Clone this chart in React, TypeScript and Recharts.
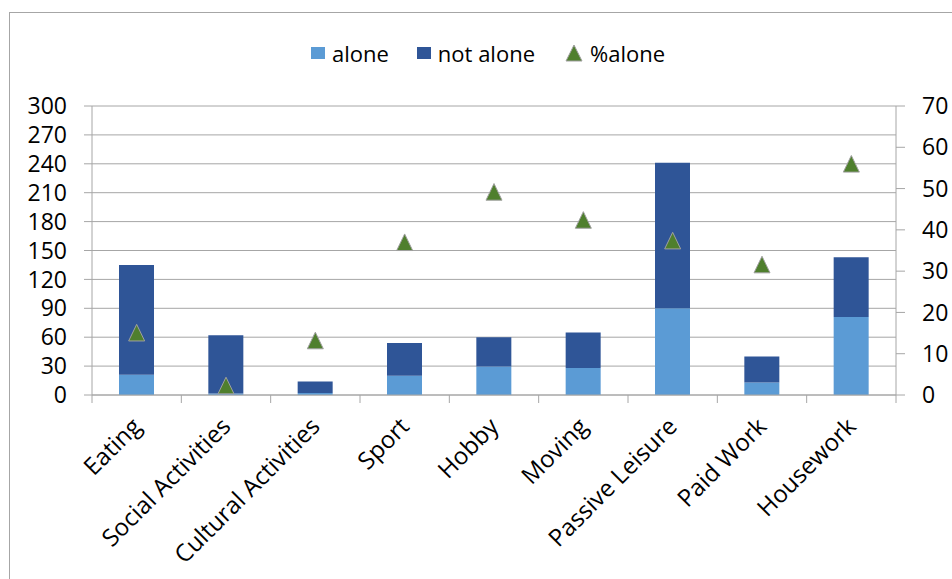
import React from "react";
import {
  ComposedChart,
  Bar,
  Line,
  XAxis,
  YAxis,
  CartesianGrid,
} from "recharts";

const categories = [
  "Eating",
  "Social Activities",
  "Cultural Activities",
  "Sport",
  "Hobby",
  "Moving",
  "Passive Leisure",
  "Paid Work",
  "Housework",
];
const alone = [21, 1.5, 2, 20, 29.5, 28, 90, 13, 81];
const notAlone = [114, 60.5, 12, 34, 30.5, 37, 151, 27, 62];
const pctAlone = [15.1, 2.3, 13.2, 37.0, 49.2, 42.4, 37.4, 31.6, 56.0];

const leftTicks = [0, 30, 60, 90, 120, 150, 180, 210, 240, 270, 300];
const rightTicks = [0, 10, 20, 30, 40, 50, 60, 70];

const data = categories.map((name, i) => ({
  name,
  alone: alone[i],
  notAlone: notAlone[i],
  pct: pctAlone[i],
}));

const FONT = "'Open Sans', sans-serif";
const AXIS_GRAY = "#a6a6a6";
const C_ALONE = "#5b9bd5";
const C_NOT = "#2f5597";
const C_TRI = "#4f7f2d";
const C_TRI_STROKE = "#a0a0a0";
const TICK_FS = 23;
const XTICK_FS = 24;

const TriangleDot = (props: any) => {
  const { cx, cy, index } = props;
  if (cx == null || cy == null) return null;
  const h = 8.3;
  const w = 8;
  return (
    <polygon
      key={`tri-${index}`}
      points={`${cx},${cy - h} ${cx + w},${cy + h} ${cx - w},${cy + h}`}
      fill={C_TRI}
      stroke={C_TRI_STROKE}
      strokeWidth={1}
    />
  );
};

const XTick = (props: any) => {
  const { x, y, payload, index } = props;
  const off = payload && typeof payload.offset === "number" && payload.offset > 0 ? payload.offset : 44.7;
  const axisY = y - 8;
  const isLast = index === categories.length - 1;
  const tx = x + 6;
  const ty = axisY + 33;
  return (
    <g>
      <line x1={x - off} y1={axisY} x2={x - off} y2={axisY + 8} stroke={AXIS_GRAY} strokeWidth={1} />
      {isLast && (
        <line x1={x + off} y1={axisY} x2={x + off} y2={axisY + 8} stroke={AXIS_GRAY} strokeWidth={1} />
      )}
      <text
        x={tx}
        y={ty}
        textAnchor="end"
        fill="#000"
        fontSize={XTICK_FS}
        fontFamily={FONT}
        transform={`rotate(-45, ${tx}, ${ty})`}
      >
        {payload.value}
      </text>
    </g>
  );
};

const LegendBox = () => {
  const item = (marker: React.ReactNode, label: string, ml: number) => (
    <div style={{ display: "flex", alignItems: "center", marginLeft: ml }}>
      {marker}
      <span style={{ marginLeft: 7 }}>{label}</span>
    </div>
  );
  return (
    <div
      style={{
        position: "absolute",
        left: 0,
        top: 30,
        width: 944,
        display: "flex",
        alignItems: "center",
        paddingLeft: 303,
        boxSizing: "border-box",
        fontFamily: FONT,
        fontSize: 22,
        lineHeight: "30px",
        color: "#000",
      }}
    >
      {item(<div style={{ width: 14, height: 12, background: C_ALONE }} />, "alone", 0)}
      {item(<div style={{ width: 14, height: 12, background: C_NOT }} />, "not alone", 28)}
      {item(
        <svg width={18} height={18} style={{ display: "block" }}>
          <polygon points="9,1 17,17 1,17" fill={C_TRI} stroke={C_TRI_STROKE} strokeWidth={1} />
        </svg>,
        "%alone",
        30
      )}
    </div>
  );
};

export default function App() {
  return (
    <>
      <style>{"html,body{margin:0;padding:0;overflow:hidden;background:#fff}"}</style>
      <div
        style={{
          position: "absolute",
          left: 8,
          top: 8,
          width: 944,
          height: 571,
          overflow: "hidden",
          background: "#fff",
        }}
      >
        <div
          style={{
            position: "absolute",
            left: 1,
            top: 4,
            width: 2000,
            height: 2000,
            borderLeft: `1px solid ${AXIS_GRAY}`,
            borderTop: `1px solid ${AXIS_GRAY}`,
          }}
        />
        <LegendBox />
        <div style={{ position: "absolute", left: 0, top: 0 }}>
          <ComposedChart
            width={944}
            height={571}
            data={data}
            margin={{ top: 98, right: 0, bottom: 0, left: 0 }}
            barCategoryGap={0}
          >
            <CartesianGrid vertical={false} stroke={AXIS_GRAY} yAxisId="left" />
            <XAxis
              dataKey="name"
              height={184}
              tickSize={8}
              tickMargin={0}
              tickLine={false}
              axisLine={{ stroke: AXIS_GRAY }}
              interval={0}
              tick={<XTick />}
            />
            <YAxis
              yAxisId="left"
              orientation="left"
              width={84}
              domain={[0, 300]}
              ticks={leftTicks}
              interval={0}
              tickSize={8}
              tickMargin={17}
              axisLine={{ stroke: AXIS_GRAY }}
              tickLine={{ stroke: AXIS_GRAY }}
              tick={{ fill: "#000", fontSize: TICK_FS, fontFamily: FONT }}
            />
            <YAxis
              yAxisId="right"
              orientation="right"
              width={56}
              domain={[0, 70]}
              ticks={rightTicks}
              interval={0}
              tickSize={9}
              tickMargin={17}
              axisLine={{ stroke: AXIS_GRAY }}
              tickLine={{ stroke: AXIS_GRAY }}
              tick={{ fill: "#000", fontSize: TICK_FS, fontFamily: FONT, textAnchor: "start" }}
            />
            <Bar yAxisId="left" dataKey="alone" stackId="a" fill={C_ALONE} barSize={35} isAnimationActive={false} />
            <Bar yAxisId="left" dataKey="notAlone" stackId="a" fill={C_NOT} barSize={35} isAnimationActive={false} />
            <Line
              yAxisId="right"
              dataKey="pct"
              stroke="none"
              dot={<TriangleDot />}
              activeDot={false}
              isAnimationActive={false}
            />
          </ComposedChart>
        </div>
      </div>
    </>
  );
}
